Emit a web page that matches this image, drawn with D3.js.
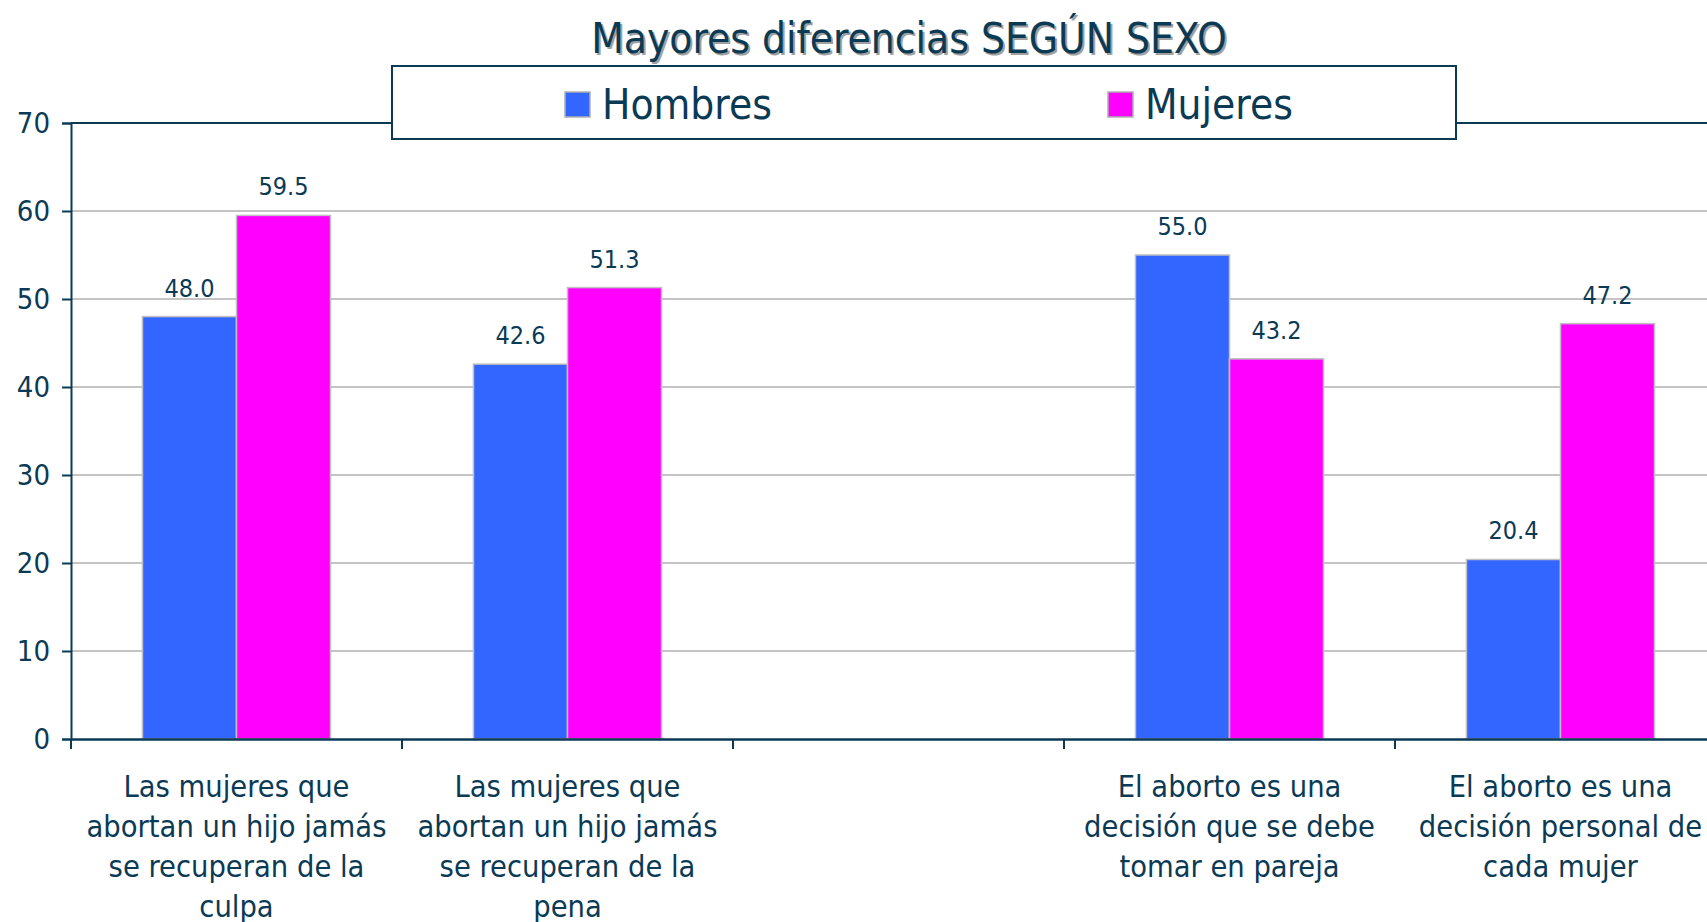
<!DOCTYPE html>
<html>
<head>
<meta charset="utf-8">
<script src="https://cdn.jsdelivr.net/npm/d3@7"></script>
<style>
  body { margin: 0; background: #fff; }
  svg text { font-family: "DejaVu Sans Condensed", "DejaVu Sans", sans-serif; fill: #0b3a55; }
</style>
</head>
<body>
<div id="chart"></div>
<script>
//------------------ DATA -------------------
var categories = [
	"Las mujeres que\nabortan un hijo jamás\nse recuperan de la\nculpa",
	"Las mujeres que\nabortan un hijo jamás\nse recuperan de la\npena",
	"",
	"El aborto es una\ndecisión que se debe\ntomar en pareja",
	"El aborto es una\ndecisión personal de\ncada mujer"
];
var series = ["Hombres", "Mujeres"];
var hombres = [48.0, 42.6, null, 55.0, 20.4];
var mujeres = [59.5, 51.3, null, 43.2, 47.2];
var yTicks = [0, 10, 20, 30, 40, 50, 60, 70];
var colors = ["#3366ff", "#ff00ff"];

var width = 1707;
var height = 922;
var navy = "#0b3a55";

var svg = d3.select('#chart').append('svg')
	.attr('width', width)
	.attr('height', height);

// Scales
var x0 = d3.scaleBand()
	.domain(d3.range(categories.length))
	.range([71, 71 + 331 * categories.length])
	.paddingInner(0);

var x1 = d3.scaleBand()
	.domain(series)
	.range([0, x0.bandwidth()])
	.paddingInner(0)
	.paddingOuter(0.76);

var y = d3.scaleLinear()
	.domain([0, 70])
	.range([739, 123]);

// Gridlines
svg.append('g')
	.selectAll('line')
	.data(yTicks.filter(function (d) { return d > 0 && d < 70; }))
	.enter().append('line')
	.attr('x1', x0.range()[0])
	.attr('x2', width)
	.attr('y1', function (d) { return y(d); })
	.attr('y2', function (d) { return y(d); })
	.attr('stroke', '#c4c4c4')
	.attr('stroke-width', 2);

// top frame line
svg.append('line')
	.attr('x1', x0.range()[0]).attr('x2', width)
	.attr('y1', y(70)).attr('y2', y(70))
	.attr('stroke', navy).attr('stroke-width', 2);

// Bars
var rows = categories.map(function (c, i) {
	return { i: i, values: [hombres[i], mujeres[i]] };
});

var groups = svg.append('g').selectAll('g')
	.data(rows)
	.enter().append('g')
	.attr('transform', function (d) { return 'translate(' + x0(d.i) + ',0)'; });

var bars = groups.selectAll('g')
	.data(function (d) {
		return series.map(function (s, k) { return { s: s, k: k, v: d.values[k] }; })
			.filter(function (e) { return e.v != null; });
	})
	.enter().append('g');

bars.append('rect')
	.attr('x', function (d) { return x1(d.s); })
	.attr('y', function (d) { return y(d.v); })
	.attr('width', x1.bandwidth())
	.attr('height', function (d) { return y(0) - y(d.v); })
	.attr('fill', function (d) { return colors[d.k]; })
	.attr('stroke', '#c0c0c0')
	.attr('stroke-width', 1.5);

bars.append('text')
	.attr('x', function (d) { return x1(d.s) + x1.bandwidth() / 2; })
	.attr('y', function (d) { return y(d.v) - 20; })
	.attr('text-anchor', 'middle')
	.style('font-size', '25px')
	.text(function (d) { return d.v.toFixed(1); });

// Y axis
var yAxis = d3.axisLeft(y).tickValues(yTicks).tickSize(9).tickPadding(12);
var gy = svg.append('g')
	.attr('transform', 'translate(' + x0.range()[0] + ',0)')
	.call(yAxis);
gy.select('.domain').attr('stroke', navy).attr('stroke-width', 2);
gy.selectAll('.tick line').attr('stroke', navy).attr('stroke-width', 2);
gy.selectAll('.tick text').style('font-size', '29px').attr('fill', navy);

// X axis
var xAxis = d3.axisBottom(x0).tickValues([]).tickSizeOuter(0);
var gx = svg.append('g')
	.attr('transform', 'translate(0,' + y(0) + ')')
	.call(xAxis);
gx.select('.domain').attr('stroke', navy).attr('stroke-width', 2.5);

// category boundary ticks
gx.selectAll('.sep')
	.data(d3.range(categories.length + 1))
	.enter().append('line')
	.attr('x1', function (d) { return x0.range()[0] + d * x0.step(); })
	.attr('x2', function (d) { return x0.range()[0] + d * x0.step(); })
	.attr('y1', 0).attr('y2', 10)
	.attr('stroke', navy).attr('stroke-width', 2);

// category labels
var labels = svg.append('g').selectAll('text')
	.data(categories)
	.enter().append('text')
	.attr('text-anchor', 'middle')
	.style('font-size', '30.5px')
	.attr('x', function (d, i) { return x0(i) + x0.bandwidth() / 2; });

labels.selectAll('tspan')
	.data(function (d) { return d ? d.split('\n') : []; })
	.enter().append('tspan')
	.attr('x', function () { return d3.select(this.parentNode).attr('x'); })
	.attr('y', function (d, i) { return 797 + i * 40; })
	.text(function (d) { return d; });

// Title with shadow
var title = "Mayores diferencias SEGÚN SEXO";
svg.append('text')
	.attr('x', 911).attr('y', 55)
	.attr('text-anchor', 'middle')
	.style('font-size', '42px')
	.style('fill', '#a0a0a0')
	.text(title);
svg.append('text')
	.attr('x', 909).attr('y', 53)
	.attr('text-anchor', 'middle')
	.style('font-size', '42px')
	.text(title);

// Legend
var legend = svg.append('g');
legend.append('rect')
	.attr('x', 392).attr('y', 66)
	.attr('width', 1064).attr('height', 73)
	.attr('fill', '#fff')
	.attr('stroke', navy).attr('stroke-width', 2);

var legendX = [565, 1108];
var items = legend.selectAll('g.item')
	.data(series)
	.enter().append('g')
	.attr('class', 'item')
	.attr('transform', function (d, i) { return 'translate(' + legendX[i] + ',92)'; });

items.append('rect')
	.attr('width', 25).attr('height', 25)
	.attr('fill', function (d, i) { return colors[i]; })
	.attr('stroke', '#b0b0b0').attr('stroke-width', 1.5);

items.append('text')
	.attr('x', 37).attr('y', 27)
	.style('font-size', '42px')
	.text(function (d) { return d; });
</script>
</body>
</html>
